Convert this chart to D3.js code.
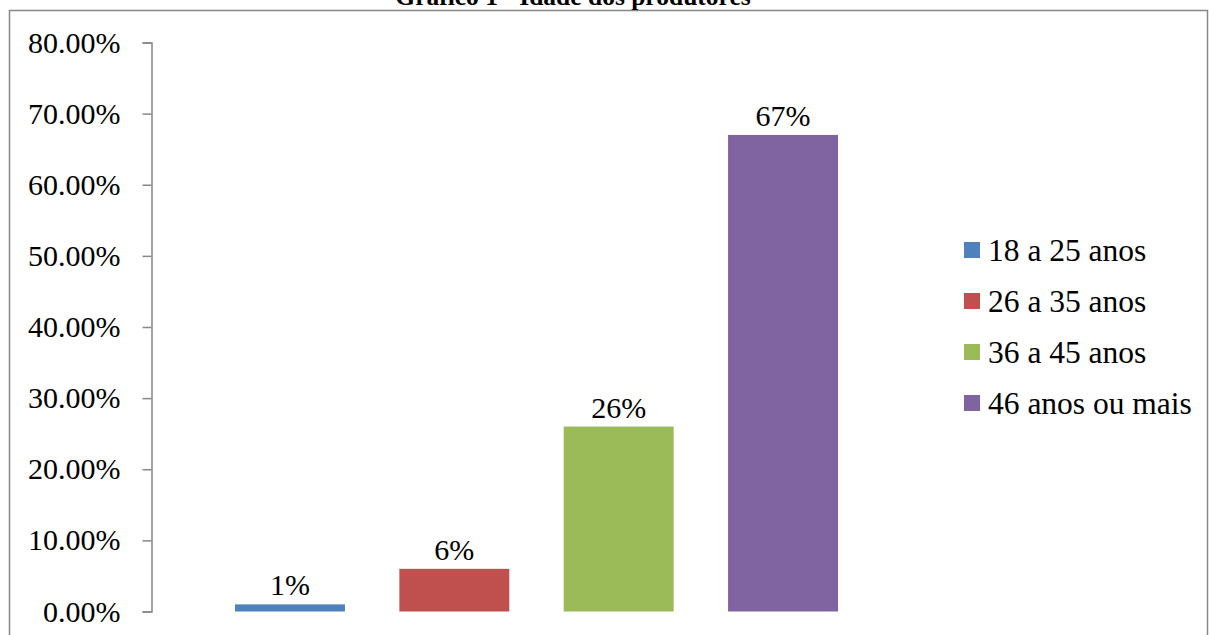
<!DOCTYPE html>
<html>
<head>
<meta charset="utf-8">
<script src="https://cdn.jsdelivr.net/npm/d3@7"></script>
<style>
	body { margin: 0; background: #fff; }
	svg { display: block; font-family: "Liberation Serif", "Times New Roman", serif; }
</style>
</head>
<body>
<svg width="1209" height="635"></svg>
<script>
// Chart data
const titleText = "Gráfico 1 - Idade dos produtores";
const categories = ["18 a 25 anos", "26 a 35 anos", "36 a 45 anos", "46 anos ou mais"];
const values = [1, 6, 26, 67];
const valueLabels = ["1%", "6%", "26%", "67%"];
const yTicks = [0, 10, 20, 30, 40, 50, 60, 70, 80];
const colors = ["#4F81BD", "#C0504D", "#9BBB59", "#8064A2"];

const svg = d3.select("svg");

// outer border of the chart box (bottom runs off the page)
svg.append("rect")
	.attr("x", 9.5)
	.attr("y", 10.5)
	.attr("width", 1198)
	.attr("height", 700)
	.attr("fill", "none")
	.attr("stroke", "#878787")
	.attr("stroke-width", 1.5);

// title, mostly cut off at the top like in the original
svg.append("text")
	.attr("x", 573)
	.attr("y", 4.5)
	.attr("text-anchor", "middle")
	.attr("font-weight", "bold")
	.attr("font-size", 25.5)
	.text(titleText);

const xScale = d3.scaleBand()
		.domain(categories)
		.range([235, 838])
		.paddingInner(0.331)
		.paddingOuter(0),
	yScale = d3.scaleLinear()
		.domain([0, 80])
		.range([611.5, 42.5]);

// y axis
const yAxis = d3.axisLeft(yScale)
	.tickValues(yTicks)
	.tickSize(9)
	.tickPadding(22)
	.tickFormat((d) => d.toFixed(2) + "%");

const gy = svg.append("g")
	.attr("transform", "translate(151.5,0)")
	.call(yAxis);

gy.select(".domain").attr("stroke", "#878787").attr("stroke-width", 1.5);
gy.selectAll(".tick line").attr("stroke", "#878787").attr("stroke-width", 1.5);
gy.selectAll(".tick text")
	.attr("fill", "#000")
	.attr("font-size", 30)
	.attr("font-family", "Liberation Serif, Times New Roman, serif");

// bars
const g = svg.append("g");
g.selectAll(".bar")
	.data(values)
	.enter()
	.append("rect")
	.attr("class", "bar")
	.attr("x", (d, i) => xScale(categories[i]))
	.attr("y", (d) => yScale(d))
	.attr("width", xScale.bandwidth())
	.attr("height", (d) => yScale(0) - yScale(d))
	.attr("fill", (d, i) => colors[i]);

// value labels
g.selectAll(".label-bar")
	.data(values)
	.enter()
	.append("text")
	.attr("class", "label-bar")
	.attr("x", (d, i) => xScale(categories[i]) + xScale.bandwidth() / 2)
	.attr("y", (d) => yScale(d) - 9)
	.attr("text-anchor", "middle")
	.attr("font-size", 30)
	.text((d, i) => valueLabels[i]);

// legend
const legend = svg.append("g").attr("transform", "translate(964,250)");
const item = legend.selectAll("g")
	.data(categories)
	.enter()
	.append("g")
	.attr("transform", (d, i) => `translate(0,${i * 51})`);

item.append("rect")
	.attr("x", 0)
	.attr("y", -8)
	.attr("width", 16)
	.attr("height", 16)
	.attr("fill", (d, i) => colors[i]);

item.append("text")
	.attr("x", 24)
	.attr("y", 10.5)
	.attr("font-size", 31.5)
	.text((d) => d);
</script>
</body>
</html>
